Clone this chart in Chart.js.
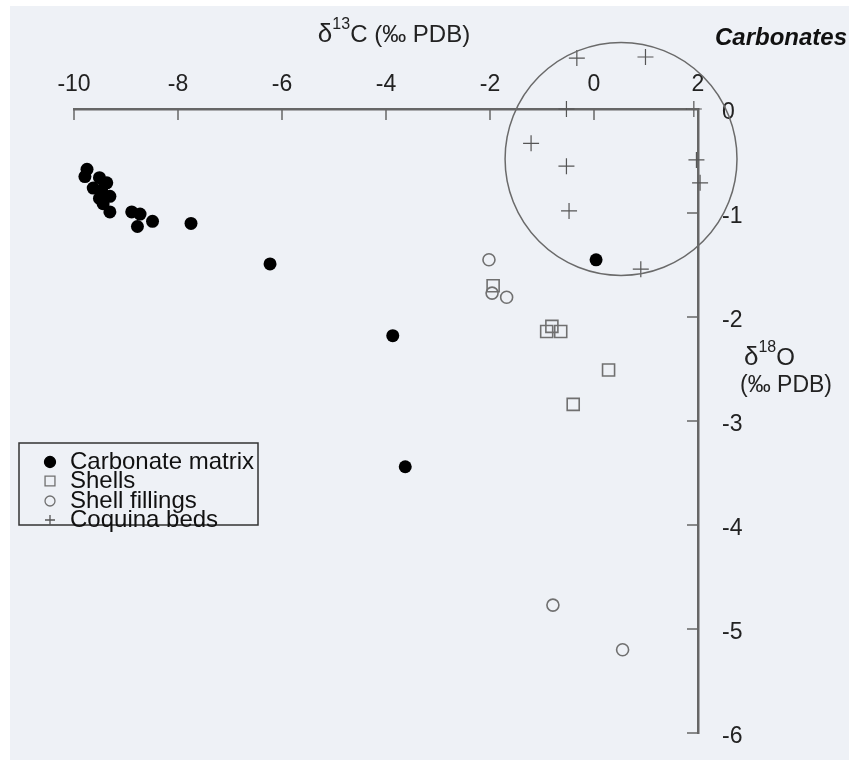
<!DOCTYPE html>
<html><head><meta charset="utf-8">
<script src="https://cdn.jsdelivr.net/npm/chart.js@4"></script>
<style>html,body{margin:0;padding:0;background:#fff;}#wrap{width:849px;height:760px;position:relative;}</style>
</head><body><div id="wrap"><canvas id="c" width="849" height="760"></canvas></div>
<script>
// ---- data (δ13C, δ18O in ‰ PDB) ----
const matrixX = [-9.75,-9.79,-9.51,-9.37,-9.63,-9.47,-9.31,-9.51,-9.44,-9.31,-8.89,-8.73,-8.78,-8.49,-7.75,-6.23,-3.87,-3.63,0.04];
const matrixY = [-0.58,-0.65,-0.66,-0.71,-0.76,-0.78,-0.84,-0.86,-0.91,-0.99,-0.99,-1.01,-1.13,-1.08,-1.10,-1.49,-2.18,-3.44,-1.45];
const shellsX = [-1.94,-0.81,-0.91,-0.64,0.28,-0.40];
const shellsY = [-1.70,-2.09,-2.14,-2.14,-2.51,-2.84];
const fillX = [-2.02,-1.96,-1.68,-0.79,0.55];
const fillY = [-1.45,-1.77,-1.81,-4.77,-5.20];
const coquinaX = [-0.33,0.99,-0.53,1.92,-1.21,-0.53,-0.48,1.97,2.04,0.90];
const coquinaY = [0.49,0.50,0.00,0.00,-0.33,-0.55,-0.98,-0.49,-0.71,-1.54];
const seriesNames = ['Carbonate matrix','Shells','Shell fillings','Coquina beds'];
const xTicks = [-10,-8,-6,-4,-2,0,2];
const yTicks = [0,-1,-2,-3,-4,-5,-6];
const circleCenter = [0.52,-0.48];
const circleRadius = [2.23,1.12];

const pts = (xs,ys)=>xs.map((x,i)=>({x:x,y:ys[i]}));
const FONT = '"Liberation Sans", Arial, sans-serif';

const bgPlugin = {
  id:'bg',
  beforeDraw(chart){
    const ctx=chart.ctx; ctx.save();
    ctx.fillStyle='#fff'; ctx.fillRect(0,0,chart.width,chart.height);
    ctx.fillStyle='#eef1f6'; ctx.fillRect(10,6,chart.width-10,chart.height-6);
    ctx.restore();
  }
};

// let markers that sit just outside the axes (above the δ13C axis) be drawn
let savedArea=null;
const areaPlugin = {
  id:'area',
  beforeDatasetsDraw(chart){
    savedArea=chart.chartArea;
    chart.chartArea={left:0,top:0,right:chart.width,bottom:chart.height,width:chart.width,height:chart.height};
  },
  afterDatasetsDraw(chart){ if(savedArea) chart.chartArea=savedArea; }
};

const decoPlugin = {
  id:'deco',
  afterDraw(chart){
    const ctx=chart.ctx, xs=chart.scales.x, ys=chart.scales.y, ca=chart.chartArea;
    ctx.save();
    // inward tick marks
    ctx.strokeStyle='#666'; ctx.lineWidth=1.5;
    xTicks.forEach(v=>{const px=xs.getPixelForValue(v); ctx.beginPath(); ctx.moveTo(px,ca.top); ctx.lineTo(px,ca.top+11); ctx.stroke();});
    yTicks.forEach(v=>{const py=ys.getPixelForValue(v); ctx.beginPath(); ctx.moveTo(ca.right,py); ctx.lineTo(ca.right-11,py); ctx.stroke();});
    // ellipse (circle) around coquina beds
    const cx=xs.getPixelForValue(circleCenter[0]), cy=ys.getPixelForValue(circleCenter[1]);
    const rx=Math.abs(xs.getPixelForValue(circleCenter[0]+circleRadius[0])-cx);
    const ry=Math.abs(ys.getPixelForValue(circleCenter[1]+circleRadius[1])-cy);
    ctx.strokeStyle='#6a6a6a'; ctx.lineWidth=1.5;
    ctx.beginPath(); ctx.ellipse(cx,cy,rx,ry,0,0,Math.PI*2); ctx.stroke();
    // axis titles with superscripts
    ctx.fillStyle='#222'; ctx.textBaseline='alphabetic';
    const drawSup=(parts,x,y,align)=>{
      let w=0; parts.forEach(p=>{ctx.font=p.f; w+=ctx.measureText(p.t).width;});
      let cx0 = align==='center'? x-w/2 : x;
      parts.forEach(p=>{ctx.font=p.f; ctx.textAlign='left'; ctx.fillText(p.t,cx0,y+(p.dy||0)); cx0+=ctx.measureText(p.t).width;});
    };
    drawSup([{t:'δ',f:'26px '+FONT},{t:'13',f:'16px '+FONT,dy:-13},{t:'C (‰ PDB)',f:'24px '+FONT}],394,42,'center');
    drawSup([{t:'δ',f:'26px '+FONT},{t:'18',f:'16px '+FONT,dy:-13},{t:'O',f:'24px '+FONT}],744,365,'left');
    ctx.font='23px '+FONT; ctx.textAlign='left'; ctx.fillText('(‰ PDB)',740,392);
    ctx.font='italic bold 24px '+FONT; ctx.fillStyle='#111'; ctx.fillText('Carbonates',715,45);
    // legend
    ctx.strokeStyle='#333'; ctx.lineWidth=1.5;
    ctx.strokeRect(19,443,239,82);
    const ds=chart.data.datasets;
    const rows=[462,481,501,520];
    ds.forEach((d,i)=>{
      const mx=50,my=rows[i];
      ctx.save();
      ctx.strokeStyle=d.pointBorderColor; ctx.fillStyle=d.pointBackgroundColor; ctx.lineWidth=1.3;
      Chart.helpers.drawPoint(ctx,{pointStyle:d.pointStyle,radius:i===0?5.5:(i===1?7:5),borderWidth:1.3},mx,my,0);
      ctx.restore();
      ctx.fillStyle='#111'; ctx.font='24px '+FONT; ctx.textAlign='left'; ctx.textBaseline='middle';
      ctx.fillText(d.label,70,my);
    });
    ctx.restore();
  }
};

new Chart(document.getElementById('c'),{
  type:'scatter',
  data:{datasets:[
    {label:seriesNames[0],data:pts(matrixX,matrixY),pointStyle:'circle',pointRadius:6.5,pointBackgroundColor:'#000',pointBorderColor:'#000',pointBorderWidth:0,clip:false},
    {label:seriesNames[1],data:pts(shellsX,shellsY),pointStyle:'rect',pointRadius:8.5,pointBackgroundColor:'rgba(0,0,0,0)',pointBorderColor:'#707070',pointBorderWidth:1.6,clip:false},
    {label:seriesNames[2],data:pts(fillX,fillY),pointStyle:'circle',pointRadius:6,pointBackgroundColor:'rgba(0,0,0,0)',pointBorderColor:'#707070',pointBorderWidth:1.6,clip:false},
    {label:seriesNames[3],data:pts(coquinaX,coquinaY),pointStyle:'cross',pointRadius:8,pointBackgroundColor:'rgba(0,0,0,0)',pointBorderColor:'#555',pointBorderWidth:1.2,clip:false}
  ]},
  options:{
    responsive:false, animation:false, events:[],
    layout:{padding:{left:74,top:0,right:0,bottom:27}},
    plugins:{legend:{display:false},tooltip:{enabled:false},title:{display:false}},
    scales:{
      x:{type:'linear',position:'top',min:-10,max:2,
        afterFit(s){s.height=109; s.paddingLeft=0; s.paddingRight=0;},
        afterBuildTicks(s){s.ticks=xTicks.map(v=>({value:v}));},
        grid:{display:false},
        border:{display:true,color:'#666',width:2.5},
        ticks:{color:'#222',font:{family:FONT,size:23},padding:3,maxRotation:0,autoSkip:false}
      },
      y:{type:'linear',position:'right',min:-6,max:0,
        afterFit(s){s.width=151; s.paddingTop=0; s.paddingBottom=0;},
        afterBuildTicks(s){s.ticks=yTicks.map(v=>({value:v}));},
        grid:{display:false},
        border:{display:true,color:'#666',width:2.5},
        ticks:{color:'#222',font:{family:FONT,size:23},padding:16,labelOffset:4,autoSkip:false}
      }
    }
  },
  plugins:[bgPlugin,areaPlugin,decoPlugin]
});
</script></body></html>
